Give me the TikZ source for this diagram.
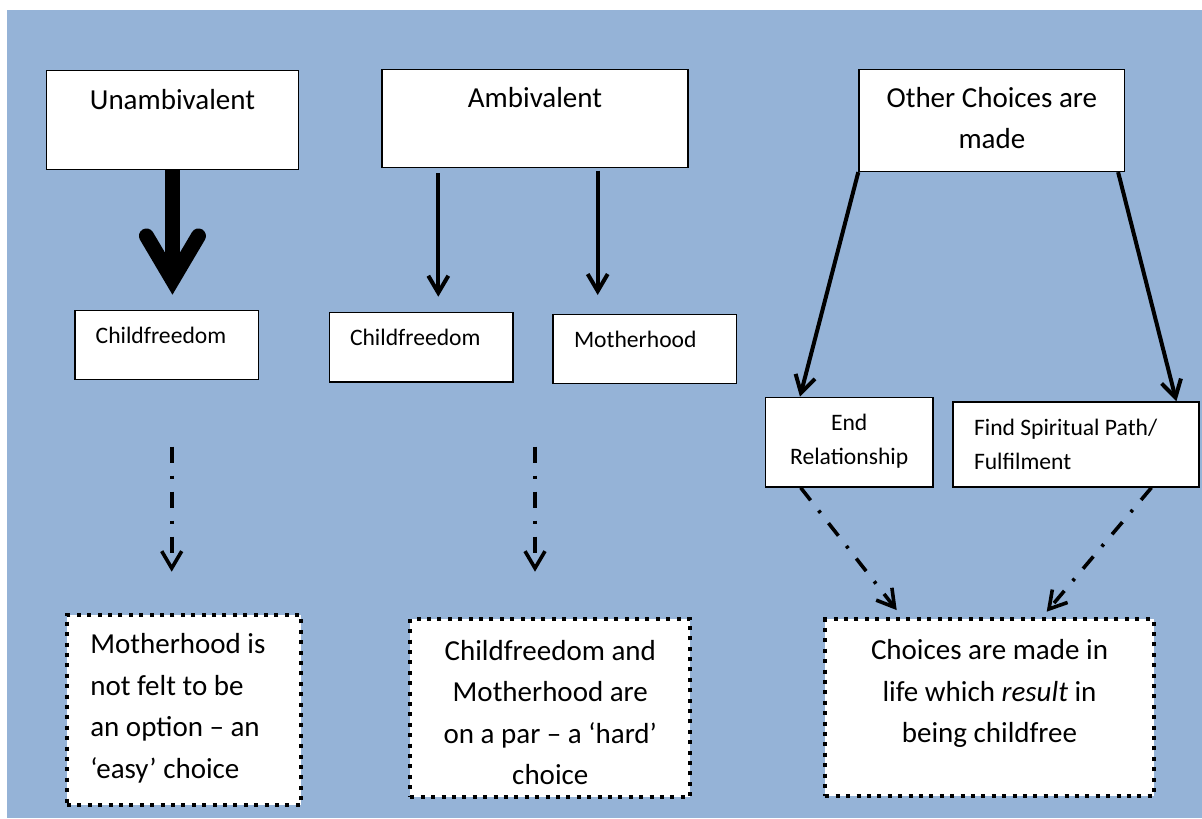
\documentclass[tikz,border=0pt]{standalone}
\usepackage{fontspec}
\setmainfont{Carlito}
\usepackage{xcolor}
\usepackage{tikz}
\usetikzlibrary{arrows.meta}
\usetikzlibrary{positioning}
\definecolor{panelblue}{RGB}{149,179,215}

\tikzset{
  box/.style={draw=black, line width=0.7pt, fill=white, anchor=north west, inner ysep=0pt},
  dotbox/.style={box, line width=2pt, dash pattern=on 2pt off 3.2pt},
  bigtext/.style={font=\fontsize{14.5}{20.75}\selectfont},
  smalltext/.style={font=\fontsize{11.8}{17}\selectfont},
  solidarrow/.style={line width=2pt, -{Straight Barb[length=8.5pt, width=10pt]}},
  dasharrow/.style={line width=1.8pt, dash pattern=on 8pt off 6.5pt on 1.5pt off 6.5pt,
    -{Straight Barb[length=8.5pt, width=10pt]}},
  heavyarrow/.style={line width=7.5pt, -{Straight Barb[length=22pt, width=26pt, line cap=round]}}
}

\begin{document}
\begin{tikzpicture}[x=0.5pt,y=-0.5pt]
\useasboundingbox (0,0) rectangle (1202,818);
\fill[white] (0,0) rectangle (1202,818);
\fill[panelblue] (7,10) rectangle (1202,818);

\node[box, bigtext, align=flush center, inner xsep=0pt, text width=126.25pt, text height=19.5pt, text depth=30pt]
  (unamb) at (45.5,70) {Unambivalent};
\node[box, bigtext, align=flush center, inner xsep=0pt, text width=153pt, text height=19.15pt, text depth=29.85pt]
  (amb) at (381.3,68.7) {Ambivalent};
\node[box, font=\fontsize{14.5}{20.5}\selectfont, align=flush center, inner xsep=0pt, text width=132.85pt, text height=18.85pt, text depth=32pt]
  (other) at (858.3,69) {Other Choices are\\made};

\node[box, smalltext, align=flush left, inner xsep=10.35pt, text width=71pt, text height=16.65pt, text depth=18pt]
  (cfree1) at (74.3,309.7) {Childfreedom};
\node[box, smalltext, align=flush left, inner xsep=10.15pt, text width=71.35pt, text height=16.5pt, text depth=18.15pt]
  (cfree2) at (329,312) {Childfreedom};
\node[box, smalltext, align=flush left, inner xsep=10.5pt, text width=70.7pt, text height=16.5pt, text depth=18pt]
  (mother) at (552.3,313.7) {Motherhood};

\node[box, smalltext, align=flush center, inner xsep=0pt, text width=83.8pt, text height=16.65pt, text depth=28.15pt]
  (endrel) at (764.7,396.7) {End\\Relationship};
\node[box, smalltext, align=flush left, inner xsep=10.5pt, text width=102pt, text height=16.5pt, text depth=26pt]
  (spirit) at (952.3,401.3) {Find Spiritual Path/\\Fulfilment};

\node[dotbox, bigtext, align=flush left, inner xsep=11.65pt, text width=93.7pt, text height=19.5pt, text depth=75.8pt]
  (easy) at (65,612.7) {Motherhood is\\not felt to be\\an option – an\\‘easy’ choice};
\node[dotbox, bigtext, align=flush center, inner xsep=0pt, text width=140pt, text height=20.8pt, text depth=68.35pt]
  (hard) at (408.3,616.7) {Childfreedom and\\Motherhood are\\on a par – a ‘hard’\\choice};
\node[dotbox, bigtext, align=flush center, inner xsep=0pt, text width=164.2pt, text height=20.2pt, text depth=68.3pt]
  (result) at (823.3,617.3) {Choices are made in\\life which \textit{result} in\\being childfree};

\draw[heavyarrow, shorten >=7.5pt] (unamb.south) -- (unamb.south |- cfree1.north);
\draw[solidarrow, shorten <=2.5pt, shorten >=7.65pt] ([xshift=28.5pt]amb.south west) -- ([xshift=28.5pt]amb.south west |- cfree2.north);
\draw[solidarrow, shorten <=1.3pt, shorten >=9.35pt] ([xshift=108.2pt]amb.south west) -- ([xshift=108.2pt]amb.south west |- mother.north);
\draw[solidarrow] (other.south west) -- ([xshift=17.65pt]endrel.north west);
\draw[solidarrow] ([xshift=-3.65pt]other.south east) -- ([xshift=-11.65pt]spirit.north east);

\coordinate (gapL1) at (171.7,446.7);
\coordinate (gapL2) at (171.7,571.7);
\coordinate (gapM1) at (535,446.7);
\coordinate (gapM2) at (535,571.7);
\draw[dasharrow] (gapL1) -- (gapL2);
\draw[dasharrow] (gapM1) -- (gapM2);
\draw[dasharrow] ([xshift=18pt]endrel.south west) -- ([xshift=36.7pt,yshift=3.6pt]result.north west);
\draw[dasharrow] ([xshift=-24.15pt]spirit.south east) -- ([xshift=111.7pt,yshift=2.8pt]result.north west);
\end{tikzpicture}
\end{document}
